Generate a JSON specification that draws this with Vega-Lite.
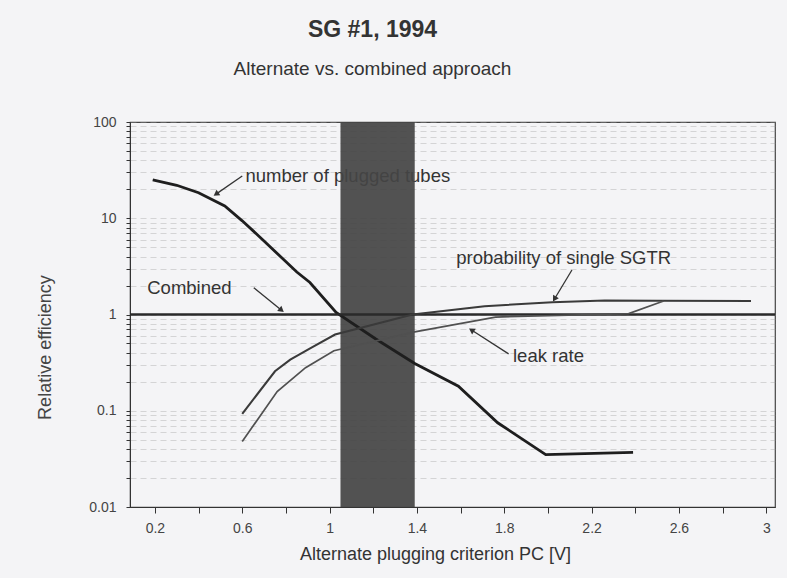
{
  "$schema": "https://vega.github.io/schema/vega-lite/v6.json",
  "autosize": {"type": "none"},
  "width": 645,
  "height": 385,
  "padding": {"left": 130, "top": 122, "right": 12, "bottom": 71},
  "background": "#f4f4f6",
  "config": {
    "font": "Liberation Sans",
    "view": {"stroke": "#444", "strokeWidth": 1.2}
  },
  "title": {
    "text": "SG #1, 1994",
    "subtitle": "Alternate vs. combined approach",
    "fontSize": 23,
    "fontWeight": "bold",
    "subtitleFontSize": 19,
    "color": "#333",
    "subtitleColor": "#333",
    "subtitlePadding": 18,
    "offset": 36,
    "dx": -80
  },
  "datasets": {
    "curves": [
      {"series": "tubes", "x": 0.19, "y": 25},
      {"series": "tubes", "x": 0.3, "y": 22},
      {"series": "tubes", "x": 0.4, "y": 18.4},
      {"series": "tubes", "x": 0.52, "y": 13.4},
      {"series": "tubes", "x": 0.6, "y": 9.4},
      {"series": "tubes", "x": 0.69, "y": 6.1},
      {"series": "tubes", "x": 0.77, "y": 4.1},
      {"series": "tubes", "x": 0.85, "y": 2.76},
      {"series": "tubes", "x": 0.91, "y": 2.15},
      {"series": "tubes", "x": 1.03, "y": 1.05},
      {"series": "tubes", "x": 1.21, "y": 0.56},
      {"series": "tubes", "x": 1.39, "y": 0.31},
      {"series": "tubes", "x": 1.59, "y": 0.18},
      {"series": "tubes", "x": 1.77, "y": 0.075},
      {"series": "tubes", "x": 1.99, "y": 0.035},
      {"series": "tubes", "x": 2.39, "y": 0.037},
      {"series": "combined", "x": 0.086, "y": 1},
      {"series": "combined", "x": 3.04, "y": 1},
      {"series": "probability", "x": 0.6, "y": 0.093},
      {"series": "probability", "x": 0.75, "y": 0.257},
      {"series": "probability", "x": 0.82, "y": 0.34},
      {"series": "probability", "x": 0.915, "y": 0.45},
      {"series": "probability", "x": 1.025, "y": 0.62},
      {"series": "probability", "x": 1.38, "y": 1.0},
      {"series": "probability", "x": 1.71, "y": 1.22},
      {"series": "probability", "x": 2.02, "y": 1.34},
      {"series": "probability", "x": 2.26, "y": 1.4},
      {"series": "probability", "x": 2.5, "y": 1.39},
      {"series": "probability", "x": 2.93, "y": 1.38},
      {"series": "leak", "x": 0.6, "y": 0.048},
      {"series": "leak", "x": 0.76, "y": 0.158},
      {"series": "leak", "x": 0.89, "y": 0.28},
      {"series": "leak", "x": 1.02, "y": 0.42},
      {"series": "leak", "x": 1.39, "y": 0.66},
      {"series": "leak", "x": 1.76, "y": 0.94},
      {"series": "leak", "x": 2.37, "y": 1.02},
      {"series": "leak", "x": 2.53, "y": 1.38}
    ],
    "band": [{"x": 1.05, "x2": 1.39}],
    "labels": [
      {"text": "number of plugged tubes", "x": 0.615, "y": 27.5},
      {"text": "Combined", "x": 0.165, "y": 1.9},
      {"text": "probability of single SGTR", "x": 1.58, "y": 3.9},
      {"text": "leak rate", "x": 1.84, "y": 0.37}
    ],
    "arrows": [
      {"name": "tubes", "x": 0.6, "y": 27.5, "x2": 0.48, "y2": 17.8},
      {"name": "combined", "x": 0.653, "y": 1.9, "x2": 0.78, "y2": 1.11},
      {"name": "probability", "x": 2.11, "y": 2.9, "x2": 2.03, "y2": 1.45},
      {"name": "leak", "x": 1.82, "y": 0.39, "x2": 1.65, "y2": 0.69}
    ]
  },
  "layer": [
    {
      "data": {"name": "labels"},
      "mark": {"type": "text", "align": "left", "baseline": "middle", "fontSize": 18.5, "color": "#333"},
      "encoding": {
        "x": {
          "field": "x", "type": "quantitative",
          "scale": {"domain": [0.086, 3.04], "nice": false, "zero": false},
          "axis": {
            "title": "Alternate plugging criterion  PC  [V]",
            "titleFontSize": 18,
            "titleFontWeight": "normal",
            "titleColor": "#333",
            "titlePadding": 10,
            "titleX": 305,
            "values": [0.2, 0.4, 0.6, 0.8, 1, 1.2, 1.4, 1.6, 1.8, 2, 2.2, 2.4, 2.6, 2.8, 3],
            "format": ".1~f",
            "labelExpr": "round(datum.value*10) % 4 == 2 ? datum.label : ''",
            "labelFontSize": 14,
            "labelColor": "#444",
            "labelPadding": 8,
            "tickSize": 6,
            "tickColor": "#333",
            "domainColor": "#333",
            "grid": false
          }
        },
        "y": {
          "field": "y", "type": "quantitative",
          "scale": {"type": "log", "domain": [0.01, 100], "nice": false},
          "axis": {
            "title": "Relative efficiency",
            "titleFontSize": 18,
            "titleFontWeight": "normal",
            "titleColor": "#444",
            "titlePadding": 34,
            "titleY": 225,
            "values": [0.01, 0.02, 0.03, 0.04, 0.05, 0.06, 0.07, 0.08, 0.09, 0.1, 0.2, 0.3, 0.4, 0.5, 0.6, 0.7, 0.8, 0.9, 1, 2, 3, 4, 5, 6, 7, 8, 9, 10, 20, 30, 40, 50, 60, 70, 80, 90, 100],
            "format": "~g",
            "labelExpr": "abs(log(datum.value)/LN10 - round(log(datum.value)/LN10)) < 0.001 ? datum.label : ''",
            "labelFontSize": 14,
            "labelColor": "#444",
            "labelPadding": 10,
            "tickSize": 4,
            "tickColor": "#333",
            "domainColor": "#333",
            "grid": true,
            "gridColor": "#999",
            "gridOpacity": 0.45,
            "gridDash": [6, 4],
            "gridWidth": 0.8
          }
        },
        "text": {"field": "text", "type": "nominal"}
      }
    },
    {
      "data": {"name": "band"},
      "mark": {"type": "rect", "color": "#454545", "opacity": 0.93},
      "encoding": {
        "x": {"field": "x", "type": "quantitative"},
        "x2": {"field": "x2"}
      }
    },
    {
      "data": {"name": "curves"},
      "mark": {"type": "line", "clip": true},
      "encoding": {
        "x": {"field": "x", "type": "quantitative"},
        "y": {"field": "y", "type": "quantitative"},
        "detail": {"field": "series", "type": "nominal"},
        "color": {
          "field": "series", "type": "nominal",
          "scale": {"domain": ["tubes", "combined", "probability", "leak"], "range": ["#1e1e1e", "#2a2a2a", "#3a3a3a", "#505050"]},
          "legend": null
        },
        "strokeWidth": {
          "field": "series", "type": "nominal",
          "scale": {"domain": ["tubes", "combined", "probability", "leak"], "range": [2.8, 1.7, 1.6, 1.2]},
          "legend": null
        }
      }
    },
    {
      "data": {"name": "arrows"},
      "mark": {"type": "rule", "color": "#333", "strokeWidth": 1.3},
      "encoding": {
        "x": {"field": "x", "type": "quantitative"},
        "y": {"field": "y", "type": "quantitative"},
        "x2": {"field": "x2"},
        "y2": {"field": "y2"}
      }
    },
    {
      "data": {"name": "arrows"},
      "transform": [{"filter": "datum.name == 'tubes'"}],
      "mark": {"type": "point", "shape": "triangle-up", "filled": true, "color": "#333", "opacity": 1, "size": 45, "angle": -125},
      "encoding": {"x": {"field": "x2", "type": "quantitative"}, "y": {"field": "y2", "type": "quantitative"}}
    },
    {
      "data": {"name": "arrows"},
      "transform": [{"filter": "datum.name == 'combined'"}],
      "mark": {"type": "point", "shape": "triangle-up", "filled": true, "color": "#333", "opacity": 1, "size": 45, "angle": 129},
      "encoding": {"x": {"field": "x2", "type": "quantitative"}, "y": {"field": "y2", "type": "quantitative"}}
    },
    {
      "data": {"name": "arrows"},
      "transform": [{"filter": "datum.name == 'probability'"}],
      "mark": {"type": "point", "shape": "triangle-up", "filled": true, "color": "#333", "opacity": 1, "size": 45, "angle": -149},
      "encoding": {"x": {"field": "x2", "type": "quantitative"}, "y": {"field": "y2", "type": "quantitative"}}
    },
    {
      "data": {"name": "arrows"},
      "transform": [{"filter": "datum.name == 'leak'"}],
      "mark": {"type": "point", "shape": "triangle-up", "filled": true, "color": "#333", "opacity": 1, "size": 45, "angle": -57},
      "encoding": {"x": {"field": "x2", "type": "quantitative"}, "y": {"field": "y2", "type": "quantitative"}}
    }
  ]
}
